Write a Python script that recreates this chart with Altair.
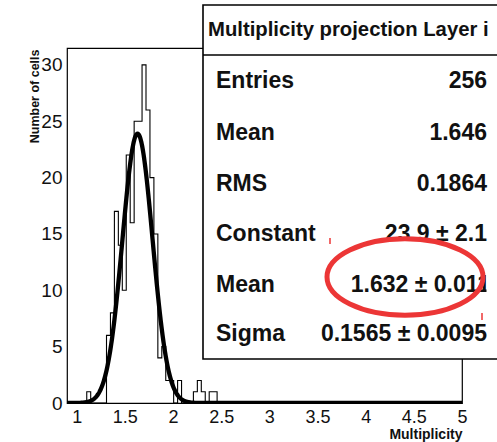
import altair as alt
import numpy as np
import pandas as pd

# ---------------- data ----------------
x_min, x_max = 0.9, 5.0
y_max = 31.5
bin_width = 0.041
# counts of the first bins (starting at x_min), remaining bins are empty
counts_head = [0, 0, 0, 0, 0, 1, 0, 0, 0, 0,
               6, 8, 17, 14, 10, 22, 16, 25, 25, 30,
               26, 20, 15, 4, 5, 2, 2, 0, 2, 0,
               0, 0, 1, 2, 1, 0, 1, 1]
n_bins = 100

fit_constant = 23.9
fit_mean = 1.632
fit_sigma = 0.1565

x_ticks = [1, 1.5, 2, 2.5, 3, 3.5, 4, 4.5, 5]
y_ticks = [0, 5, 10, 15, 20, 25, 30]

header_text = "Multiplicity projection Layer i"
stat_names = ["Entries", "Mean", "RMS", "Constant", "Mean", "Sigma"]
stat_values = ["256", "1.646", "0.1864", "23.9 \u00b1 2.1", "1.632 \u00b1 0.011", "0.1565 \u00b1 0.0095"]

# ---------------- build table ----------------
counts = counts_head + [0] * (n_bins - len(counts_head))
edges = x_min + bin_width * np.arange(n_bins + 1)
hist = pd.DataFrame({
    "x": edges,
    "n": counts + [counts[-1]],
})

W, H = 395, 355
FONT = "Liberation Sans"

xscale = alt.Scale(domain=[x_min, x_max], nice=False, zero=False)
yscale = alt.Scale(domain=[0, y_max], nice=False, zero=True)

hist_line = alt.Chart(hist).mark_line(
    interpolate="step-after", color="black", strokeWidth=1.1, clip=True
).encode(
    x=alt.X("x:Q", scale=xscale, axis=alt.Axis(
        values=x_ticks, format="~g", title="Multiplicity", ticks=False, domain=False, grid=False,
        labelFont=FONT, labelFontSize=18, labelColor="#111", labelPadding=5,
        labelFlush=False,
        titleFont=FONT, titleFontSize=14, titleFontWeight="bold", titleColor="#111",
        titleAnchor="end", titleAlign="right", titleBaseline="alphabetic",
        titleX=W, titleY=35)),
    y=alt.Y("n:Q", scale=yscale, axis=alt.Axis(
        values=y_ticks, format="~g", title="Number of cells", ticks=False, domain=False, grid=False,
        labelFont=FONT, labelFontSize=19, labelColor="#111", labelPadding=5,
        labelFlush=False,
        titleFont=FONT, titleFontSize=12.5, titleFontWeight="bold", titleColor="#111",
        titleAngle=270, titleAlign="right", titleBaseline="alphabetic",
        titleX=-29, titleY=1)),
)

fit = alt.Chart(alt.sequence(x_min, x_max + 0.001, 0.004, as_="x")).transform_calculate(
    y=f"{fit_constant}*exp(-0.5*pow((datum.x-{fit_mean})/{fit_sigma},2))"
).mark_line(color="black", strokeWidth=4.3, clip=True).encode(
    x=alt.X("x:Q", scale=xscale),
    y=alt.Y("y:Q", scale=yscale),
)

one = pd.DataFrame({"a": [0]})
base = alt.Chart(one)

# stats box (pixel positions relative to the plot origin)
box = base.mark_rect(fill="white", stroke="black", strokeWidth=1.6).encode(
    x=alt.value(136), x2=alt.value(460), y=alt.value(-43), y2=alt.value(311))
sep = base.mark_rule(color="black", strokeWidth=1.6).encode(
    x=alt.value(136), x2=alt.value(460), y=alt.value(7))
header = base.mark_text(font=FONT, fontSize=20.3, fontWeight="bold", align="left",
                        baseline="alphabetic", color="#111").encode(
    x=alt.value(141), y=alt.value(-12), text=alt.value(header_text))

layers = [hist_line, fit, box, sep, header]
row_base = [40, 92, 143, 193, 244, 293]
for i, (nm, val) in enumerate(zip(stat_names, stat_values)):
    layers.append(base.mark_text(font=FONT, fontSize=23, fontWeight="bold", align="left",
                                 baseline="alphabetic", color="#111").encode(
        x=alt.value(149), y=alt.value(row_base[i]), text=alt.value(nm)))
    xr = 423 if i == 4 else 420
    layers.append(base.mark_text(font=FONT, fontSize=23, fontWeight="bold", align="right",
                                 baseline="alphabetic", color="#111").encode(
        x=alt.value(xr), y=alt.value(row_base[i]), text=alt.value(val)))

cover = base.mark_rect(fill="white").encode(
    x=alt.value(419.5), x2=alt.value(440), y=alt.value(222), y2=alt.value(250))
ellipse = base.mark_point(
    shape="M -1 0 A 1 0.49 0 1 1 1 0 A 1 0.49 0 1 1 -1 0",
    size=24336, filled=False, color="#ec3636", strokeWidth=5, opacity=1).encode(
    x=alt.value(338), y=alt.value(229))
tick1 = base.mark_rule(color="#ec3636", strokeWidth=1.5).encode(
    x=alt.value(263), y=alt.value(190), y2=alt.value(196))
tick2 = base.mark_rule(color="#ec3636", strokeWidth=1.5).encode(
    x=alt.value(415), y=alt.value(265), y2=alt.value(272))
layers += [cover, ellipse, tick1, tick2]

chart = alt.layer(*layers).properties(
    width=W, height=H,
    autosize=alt.AutoSizeParams(type="none"),
    padding={"left": 67, "top": 48, "right": 35, "bottom": 39},
    background="white",
).configure_view(stroke="black", strokeWidth=1.2)

chart.save("out.html", embed_options={"renderer": "svg", "actions": False})
